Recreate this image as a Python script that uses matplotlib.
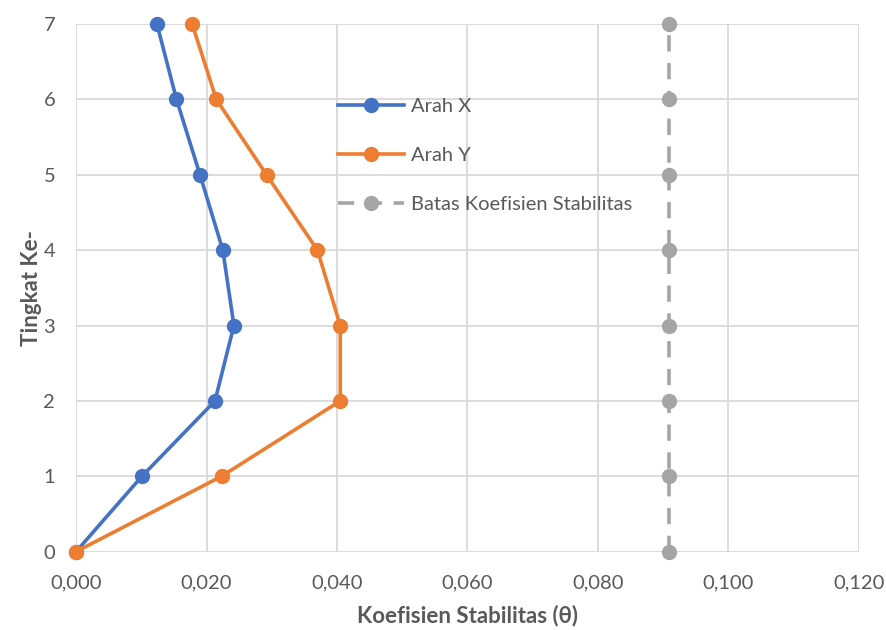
import matplotlib
matplotlib.use("Agg")
import matplotlib.pyplot as plt

# Story levels and stability coefficients per direction
levels = [0, 1, 2, 3, 4, 5, 6, 7]
theta_x = [0.0, 0.0101, 0.0213, 0.0242, 0.0225, 0.0190, 0.0154, 0.0124]
theta_y = [0.0, 0.0223, 0.0405, 0.0405, 0.0370, 0.0292, 0.0215, 0.0178]
theta_max = [0.0909] * 8

x_ticks = [0.0, 0.02, 0.04, 0.06, 0.08, 0.10, 0.12]
x_tick_labels = ["0,000", "0,020", "0,040", "0,060", "0,080", "0,100", "0,120"]
y_ticks = [0, 1, 2, 3, 4, 5, 6, 7]

plt.rcParams["font.family"] = ["Lato", "DejaVu Sans"]
text_color = "#595959"

fig = plt.figure(figsize=(8.86, 6.30), dpi=100)
ax = fig.add_axes([0.0858, 0.1243, 0.8837, 0.8376])

ax.plot(theta_x, levels, color="#4472C4", lw=2.6, marker="o", ms=10,
        label="Arah X", zorder=3, clip_on=False)
ax.plot(theta_y, levels, color="#ED7D31", lw=2.6, marker="o", ms=10,
        label="Arah Y", zorder=3, clip_on=False)
ax.plot(theta_max, levels, color="#A5A5A5", lw=2.6, marker="o", ms=10,
        dashes=(4.5, 3.2), label="Batas Koefisien Stabilitas", zorder=3,
        clip_on=False)

ax.set_xlim(0, 0.12)
ax.set_ylim(0, 7)
ax.set_xticks(x_ticks)
ax.set_xticklabels(x_tick_labels)
ax.set_yticks(y_ticks)
for sp in ax.spines.values():
    sp.set_visible(False)
ax.grid(True, color="#D9D9D9", lw=1.3)
ax.set_axisbelow(True)
ax.tick_params(length=0, labelsize=14.5, colors=text_color)
ax.tick_params(axis="x", pad=16)
ax.tick_params(axis="y", pad=15)

ax.set_xlabel("Koefisien Stabilitas (θ)", fontsize=16, fontweight="bold",
              color=text_color, labelpad=10)
ax.set_ylabel("Tingkat Ke-", fontsize=16, fontweight="bold",
              color=text_color, labelpad=1)

leg = ax.legend(loc="upper left", bbox_to_anchor=(0.3815, 0.845),
                bbox_transform=fig.transFigure, frameon=False,
                fontsize=14.5, handlelength=3.3, handletextpad=0.3,
                labelspacing=1.6, borderaxespad=0, borderpad=0)
for t in leg.get_texts():
    t.set_color(text_color)

fig.savefig("out.png", dpi=100)
